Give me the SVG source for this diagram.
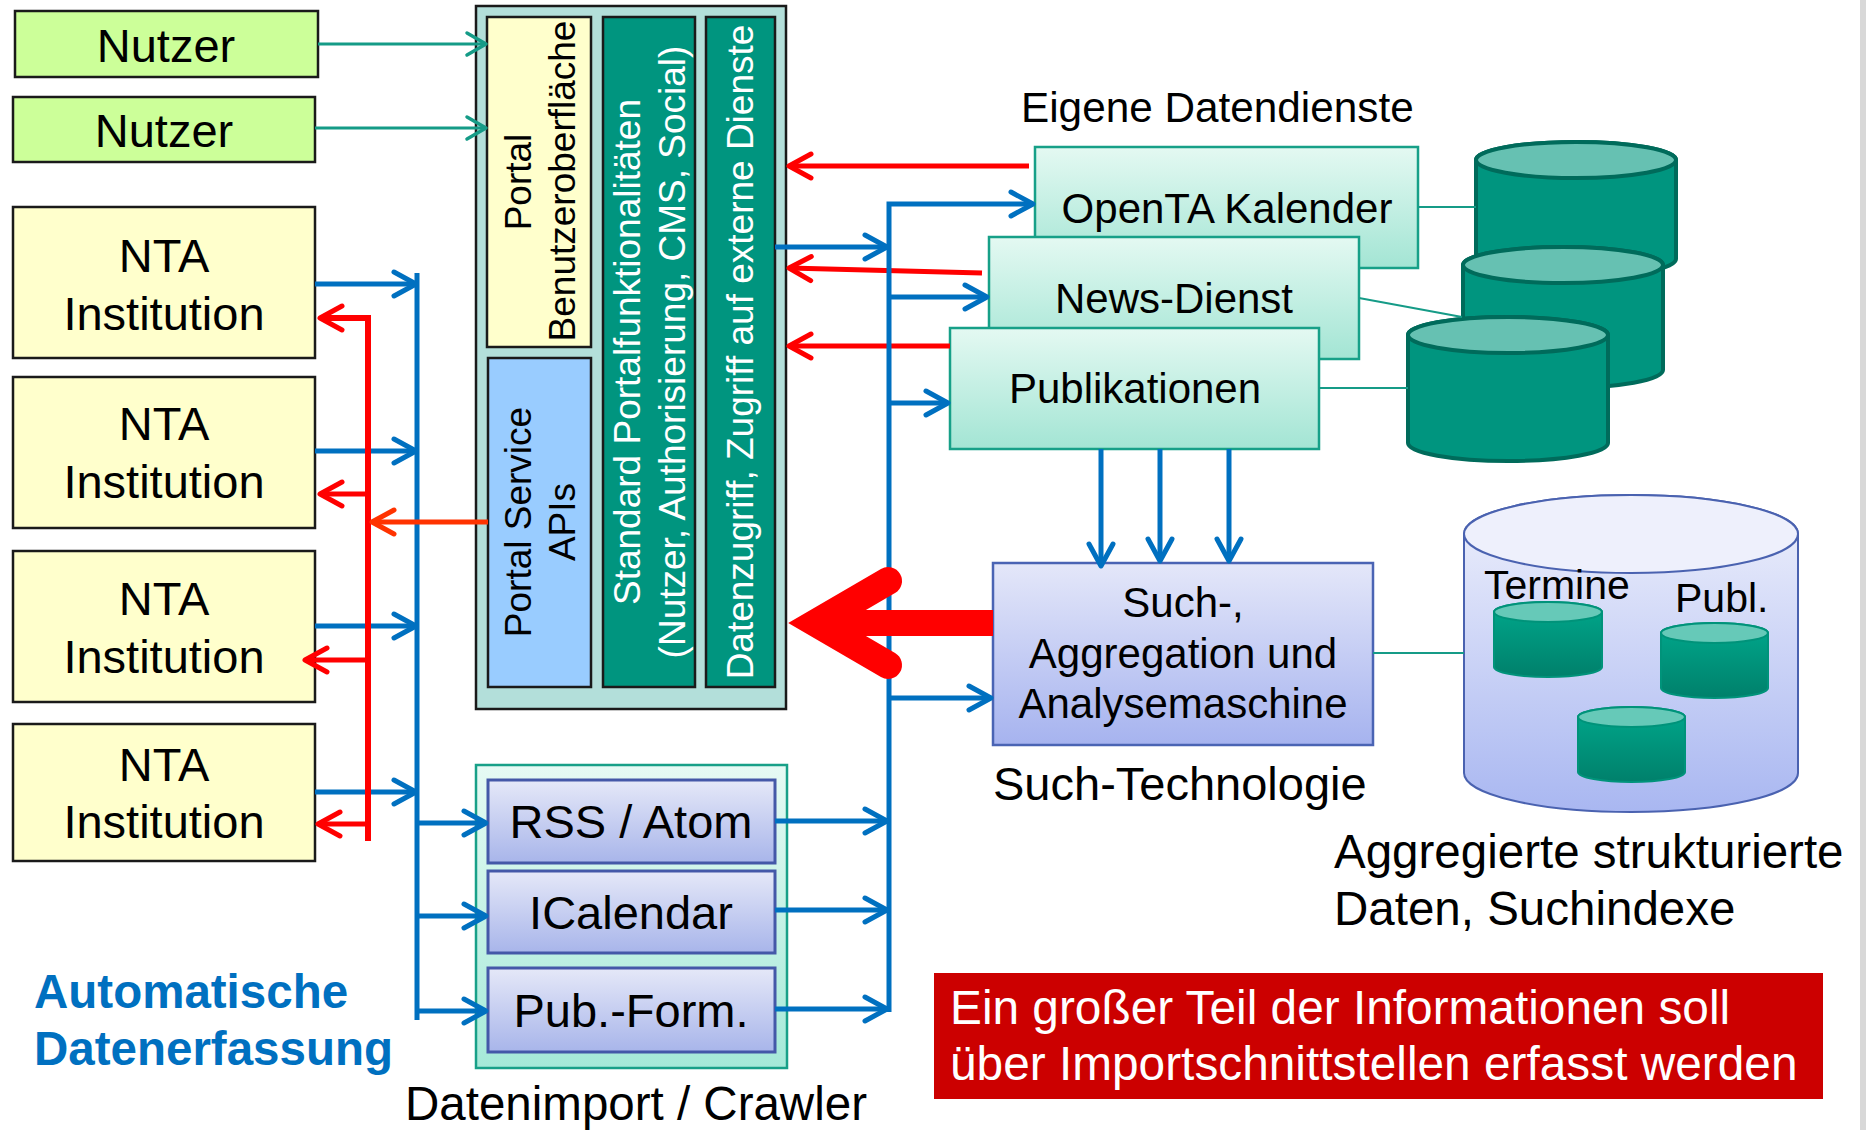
<svg xmlns="http://www.w3.org/2000/svg" width="1866" height="1130" viewBox="0 0 1866 1130">
  <style>
    text { font-family: "Liberation Sans", Arial, sans-serif; fill: #000; }
    .lbl { font-size: 47px; }
    .box-lbl { font-size: 42px; }
    .mid { text-anchor: middle; }
    .panel-txt { font-size: 37px; text-anchor: middle; }
    .white { fill: #fff; }
    .dark-box { stroke: #1a1a1a; stroke-width: 2.5; }
    .mint-box { fill: url(#g-mint); stroke: #17a088; stroke-width: 2.5; }
    .lav-box { fill: url(#g-lav); stroke: #4458a8; stroke-width: 3; }
    .blue { fill: none; stroke: #0070c0; stroke-width: 5; }
    .blue-a { fill: none; stroke: #0070c0; stroke-width: 5; marker-end: url(#ah-blue); }
    .red-a { fill: none; stroke: #ff0000; stroke-width: 5; marker-end: url(#ah-red); }
    .red { fill: none; stroke: #ff0000; stroke-width: 6; }
    .orange-a { fill: none; stroke: #ff3300; stroke-width: 5; marker-end: url(#ah-orange); }
    .teal-a { fill: none; stroke: #159b87; stroke-width: 3; marker-end: url(#ah-teal); }
    .link { fill: none; stroke: #159b87; stroke-width: 2; }
    .db-body { fill: #00957f; stroke: #006b5b; stroke-width: 4; }
    .db-top { fill: #66c1b2; stroke: #006b5b; stroke-width: 4; }
    .mini-body { fill: url(#g-teal); stroke: #00937a; stroke-width: 2; }
    .mini-top { fill: #66c9b8; stroke: #00937a; stroke-width: 2; }
  </style>
  <defs>
    <linearGradient id="g-mint" x1="0" y1="0" x2="0" y2="1">
      <stop offset="0" stop-color="#e4f9f2"/>
      <stop offset="1" stop-color="#a3e5d4"/>
    </linearGradient>
    <linearGradient id="g-import" x1="0" y1="0" x2="0" y2="1">
      <stop offset="0" stop-color="#e6faf4"/>
      <stop offset="1" stop-color="#a5e9d8"/>
    </linearGradient>
    <linearGradient id="g-lav" x1="0" y1="0" x2="0" y2="1">
      <stop offset="0" stop-color="#e5e8f8"/>
      <stop offset="1" stop-color="#a8b5ea"/>
    </linearGradient>
    <linearGradient id="g-such" x1="0" y1="0" x2="0" y2="1">
      <stop offset="0" stop-color="#e4e7f9"/>
      <stop offset="1" stop-color="#a6b3ef"/>
    </linearGradient>
    <linearGradient id="g-agg" x1="0" y1="0" x2="0" y2="1">
      <stop offset="0" stop-color="#eff1fc"/>
      <stop offset="1" stop-color="#a9b7f1"/>
    </linearGradient>
    <linearGradient id="g-teal" x1="0" y1="0" x2="0" y2="1">
      <stop offset="0" stop-color="#00a88c"/>
      <stop offset="1" stop-color="#00806b"/>
    </linearGradient>
    <marker id="ah-blue" viewBox="-30 -20 40 40" refX="0" refY="0" markerWidth="40" markerHeight="40" markerUnits="userSpaceOnUse" orient="auto" overflow="visible">
      <path d="M-22,-12 L0,0 L-22,12" fill="none" stroke="#0070c0" stroke-width="5" stroke-linecap="round" stroke-linejoin="round"/>
    </marker>
    <marker id="ah-red" viewBox="-30 -20 40 40" refX="0" refY="0" markerWidth="40" markerHeight="40" markerUnits="userSpaceOnUse" orient="auto" overflow="visible">
      <path d="M-22,-12 L0,0 L-22,12" fill="none" stroke="#ff0000" stroke-width="5" stroke-linecap="round" stroke-linejoin="round"/>
    </marker>
    <marker id="ah-orange" viewBox="-30 -20 40 40" refX="0" refY="0" markerWidth="40" markerHeight="40" markerUnits="userSpaceOnUse" orient="auto" overflow="visible">
      <path d="M-22,-12 L0,0 L-22,12" fill="none" stroke="#ff3300" stroke-width="5" stroke-linecap="round" stroke-linejoin="round"/>
    </marker>
    <marker id="ah-teal" viewBox="-30 -20 40 40" refX="0" refY="0" markerWidth="40" markerHeight="40" markerUnits="userSpaceOnUse" orient="auto" overflow="visible">
      <path d="M-19,-11 L0,0 L-19,11" fill="none" stroke="#159b87" stroke-width="3.5" stroke-linecap="round" stroke-linejoin="round"/>
    </marker>
  </defs>

  <rect width="1866" height="1130" fill="#ffffff"/>
  <rect x="1860" y="0" width="6" height="1130" fill="#d8d8d8"/>

  <!-- users -->
  <g id="nutzer-1">
    <rect x="15" y="11" width="303" height="66" fill="#ccff99" class="dark-box"/>
    <text x="166" y="62" class="lbl mid">Nutzer</text>
  </g>
  <g id="nutzer-2">
    <rect x="13" y="97" width="302" height="65" fill="#ccff99" class="dark-box"/>
    <text x="164" y="147" class="lbl mid">Nutzer</text>
  </g>

  <!-- institutions -->
  <g id="nta-1">
    <rect x="13" y="207" width="302" height="151" fill="#ffffcc" class="dark-box"/>
    <text x="164" y="272" class="lbl mid">NTA</text>
    <text x="164" y="330" class="lbl mid">Institution</text>
  </g>
  <g id="nta-2">
    <rect x="13" y="377" width="302" height="151" fill="#ffffcc" class="dark-box"/>
    <text x="164" y="440" class="lbl mid">NTA</text>
    <text x="164" y="498" class="lbl mid">Institution</text>
  </g>
  <g id="nta-3">
    <rect x="13" y="551" width="302" height="151" fill="#ffffcc" class="dark-box"/>
    <text x="164" y="615" class="lbl mid">NTA</text>
    <text x="164" y="673" class="lbl mid">Institution</text>
  </g>
  <g id="nta-4">
    <rect x="13" y="724" width="302" height="137" fill="#ffffcc" class="dark-box"/>
    <text x="164" y="781" class="lbl mid">NTA</text>
    <text x="164" y="838" class="lbl mid">Institution</text>
  </g>

  <!-- portal with its four panels -->
  <g id="portal">
    <rect x="476" y="6" width="310" height="703" fill="#b3dfda" class="dark-box"/>
    <rect x="487" y="17" width="104" height="330" fill="#ffffcc" class="dark-box"/>
    <text transform="translate(531,182) rotate(-90)" class="panel-txt">Portal</text>
    <text transform="translate(575,181) rotate(-90)" class="panel-txt">Benutzeroberfläche</text>
    <rect x="488" y="358" width="103" height="329" fill="#99ccff" class="dark-box"/>
    <text transform="translate(531,522) rotate(-90)" class="panel-txt">Portal Service</text>
    <text transform="translate(575,522) rotate(-90)" class="panel-txt">APIs</text>
    <rect x="603" y="17" width="92" height="670" fill="#00957f" class="dark-box"/>
    <text transform="translate(640,352) rotate(-90)" class="panel-txt white">Standard Portalfunktionalitäten</text>
    <text transform="translate(685,352) rotate(-90)" class="panel-txt white">(Nutzer, Authorisierung, CMS, Social)</text>
    <rect x="706" y="17" width="69" height="670" fill="#00957f" class="dark-box"/>
    <text transform="translate(753,352) rotate(-90)" class="panel-txt white">Datenzugriff, Zugriff auf externe Dienste</text>
  </g>

  <!-- import / crawler -->
  <g id="datenimport">
    <rect x="476" y="765" width="311" height="303" fill="url(#g-import)" stroke="#18a088" stroke-width="2.5"/>
    <rect x="488" y="780" width="287" height="83" class="lav-box"/>
    <text x="631" y="838" class="lbl mid">RSS / Atom</text>
    <rect x="488" y="871" width="287" height="82" class="lav-box"/>
    <text x="631" y="929" class="lbl mid">ICalendar</text>
    <rect x="488" y="968" width="287" height="84" class="lav-box"/>
    <text x="631" y="1027" class="lbl mid">Pub.-Form.</text>
    <text x="636" y="1120" font-size="47.5" text-anchor="middle">Datenimport / Crawler</text>
  </g>

  <g id="automatische-datenerfassung">
    <text x="34" y="1008" font-size="47.5" font-weight="bold" style="fill:#0070c0">Automatische</text>
    <text x="34" y="1065" font-size="47.5" font-weight="bold" style="fill:#0070c0">Datenerfassung</text>
  </g>

  <!-- own data services -->
  <text x="1021" y="122" font-size="42.3">Eigene Datendienste</text>
  <g id="openta">
    <rect x="1035" y="147" width="383" height="121" class="mint-box"/>
    <text x="1227" y="223" class="box-lbl mid">OpenTA Kalender</text>
  </g>
  <g id="news">
    <rect x="989" y="237" width="370" height="122" class="mint-box"/>
    <text x="1174" y="313" class="box-lbl mid">News-Dienst</text>
  </g>
  <g id="publikationen">
    <rect x="950" y="328" width="369" height="121" class="mint-box"/>
    <text x="1135" y="403" class="box-lbl mid">Publikationen</text>
  </g>

  <!-- databases of the own services -->
  <g id="db-kalender">
    <path class="db-body" d="M1476,160 V259 A100,18 0 0 0 1676,259 V160 A100,18 0 0 0 1476,160 Z"/>
    <ellipse class="db-top" cx="1576" cy="160" rx="100" ry="18"/>
  </g>
  <g id="db-news">
    <path class="db-body" d="M1463,265 V370 A100,18 0 0 0 1663,370 V265 A100,18 0 0 0 1463,265 Z"/>
    <ellipse class="db-top" cx="1563" cy="265" rx="100" ry="18"/>
  </g>
  <g id="db-publikationen">
    <path class="db-body" d="M1408,335 V443 A100,18 0 0 0 1608,443 V335 A100,18 0 0 0 1408,335 Z"/>
    <ellipse class="db-top" cx="1508" cy="335" rx="100" ry="18"/>
  </g>

  <!-- search engine -->
  <g id="such">
    <rect x="993" y="563" width="380" height="182" fill="url(#g-such)" stroke="#4a64b4" stroke-width="2.5"/>
    <text x="1183" y="617" class="box-lbl mid">Such-,</text>
    <text x="1183" y="668" class="box-lbl mid">Aggregation und</text>
    <text x="1183" y="718" class="box-lbl mid">Analysemaschine</text>
    <text x="993" y="800" class="lbl">Such-Technologie</text>
  </g>

  <!-- aggregated store with search indexes -->
  <g id="aggregated">
    <path d="M1464,534 V773 A167,39 0 0 0 1798,773 V534 A167,39 0 0 0 1464,534 Z" fill="url(#g-agg)" stroke="#4a62b0" stroke-width="2"/>
    <ellipse cx="1631" cy="534" rx="167" ry="39" fill="#eef0fc" stroke="#4a62b0" stroke-width="2"/>
    <text x="1484" y="599" font-size="41">Termine</text>
    <text x="1675" y="612" font-size="41">Publ.</text>
    <path class="mini-body" d="M1494,612 V667 A54,10 0 0 0 1602,667 V612 A54,10 0 0 0 1494,612 Z"/>
    <ellipse class="mini-top" cx="1548" cy="612" rx="54" ry="10"/>
    <path class="mini-body" d="M1661,633 V688 A53.5,10 0 0 0 1768,688 V633 A53.5,10 0 0 0 1661,633 Z"/>
    <ellipse class="mini-top" cx="1714.5" cy="633" rx="53.5" ry="10"/>
    <path class="mini-body" d="M1578,717 V772 A53.5,10 0 0 0 1685,772 V717 A53.5,10 0 0 0 1578,717 Z"/>
    <ellipse class="mini-top" cx="1631.5" cy="717" rx="53.5" ry="10"/>
    <text x="1334" y="868" font-size="47.5">Aggregierte strukturierte</text>
    <text x="1334" y="925" font-size="47.5">Daten, Suchindexe</text>
  </g>

  <!-- note -->
  <g id="note">
    <rect x="934" y="973" width="889" height="126" fill="#cc0000"/>
    <text x="950" y="1024" font-size="47.8" class="white">Ein großer Teil der Informationen soll</text>
    <text x="950" y="1080" font-size="47.8" class="white">über Importschnittstellen erfasst werden</text>
  </g>

  <!-- connectors -->
  <g id="connectors">
    <!-- users to portal UI -->
    <path class="teal-a" d="M318,44 H486"/>
    <path class="teal-a" d="M315,128 H486"/>

    <!-- plain links to data stores -->
    <path class="link" d="M1418,207 H1476"/>
    <path class="link" d="M1359,298 L1462,317"/>
    <path class="link" d="M1319,388 H1408"/>
    <path class="link" d="M1373,653 H1464"/>

    <!-- left collection bus -->
    <path class="blue" d="M417,273 V1020"/>
    <path class="blue-a" d="M315,284 H416"/>
    <path class="blue-a" d="M315,451 H416"/>
    <path class="blue-a" d="M315,626 H416"/>
    <path class="blue-a" d="M315,792 H416"/>
    <path class="blue-a" d="M417,823 H486"/>
    <path class="blue-a" d="M417,916 H486"/>
    <path class="blue-a" d="M417,1011 H486"/>

    <!-- feedback to the institutions -->
    <path class="red" d="M368,841 V318 H325"/>
    <path class="red-a" d="M330,318 H320"/>
    <path class="red-a" d="M368,494 H320"/>
    <path class="red-a" d="M368,660 H305"/>
    <path class="red-a" d="M368,824 H318"/>
    <path class="orange-a" d="M488,522 H372"/>

    <!-- services feed the portal -->
    <path class="red-a" d="M1029,166 H789"/>
    <path class="red-a" d="M982,273 L789,268"/>
    <path class="red-a" d="M950,346 H789"/>

    <!-- right distribution bus -->
    <path class="blue-a" d="M889,1012 V204 H1033"/>
    <path class="blue-a" d="M775,247 H887"/>
    <path class="blue-a" d="M889,297 H987"/>
    <path class="blue-a" d="M889,403 H948"/>
    <path class="blue-a" d="M889,698 H991"/>
    <path class="blue-a" d="M775,821 H887"/>
    <path class="blue-a" d="M775,910 H887"/>
    <path class="blue-a" d="M775,1009 H887"/>

    <!-- services into the search engine -->
    <path class="blue-a" d="M1101,449 V566"/>
    <path class="blue-a" d="M1160,449 V561"/>
    <path class="blue-a" d="M1229,449 V561"/>

    <!-- search results to the portal -->
    <path d="M993,623 H830" fill="none" stroke="#ff0000" stroke-width="26"/>
    <polyline points="888,581 816,623 888,665" fill="none" stroke="#ff0000" stroke-width="28" stroke-linecap="round" stroke-linejoin="miter" stroke-miterlimit="10"/>
  </g>
</svg>
